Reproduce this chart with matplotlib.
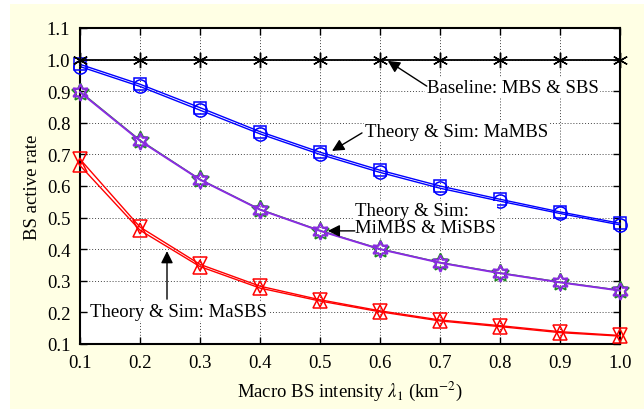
import matplotlib
matplotlib.use("Agg")
import matplotlib.pyplot as plt
from matplotlib.patches import Rectangle
from matplotlib.ticker import MultipleLocator, FormatStrFormatter

plt.rcParams['font.family'] = ['Liberation Serif', 'DejaVu Serif']
plt.rcParams['mathtext.fontset'] = 'stix'

x = [0.1, 0.2, 0.3, 0.4, 0.5, 0.6, 0.7, 0.8, 0.9, 1.0]
baseline = [1.0, 1.0, 1.0, 1.0, 1.0, 1.0, 1.0, 1.0, 1.0, 1.0]
mambs_theory = [0.978, 0.915, 0.840, 0.765, 0.700, 0.643, 0.593, 0.552, 0.513, 0.477]
mambs_sim = [0.985, 0.922, 0.848, 0.772, 0.707, 0.650, 0.600, 0.558, 0.518, 0.482]
mi_theory = [0.897, 0.743, 0.620, 0.525, 0.458, 0.400, 0.357, 0.324, 0.295, 0.269]
mi_sim = [0.899, 0.745, 0.621, 0.526, 0.459, 0.401, 0.358, 0.325, 0.296, 0.270]
masbs_theory = [0.685, 0.470, 0.352, 0.283, 0.240, 0.205, 0.176, 0.158, 0.139, 0.127]
masbs_sim = [0.665, 0.460, 0.345, 0.277, 0.236, 0.202, 0.173, 0.155, 0.136, 0.125]

W, H = 644, 410
fig = plt.figure(figsize=(W / 100, H / 100), dpi=100, facecolor='white')
fig.patches.append(Rectangle((10 / W, 0), 1 - 10 / W, 1 - 5 / H, transform=fig.transFigure,
                             facecolor='#FFFFE4', edgecolor='none', zorder=-10))
ax = fig.add_axes([80 / W, 1 - 345 / H, 540 / W, 316 / H])
ax.set_facecolor('white')

ms = 9.5
ax.plot(x, baseline, color='k', lw=1.3, marker=(6, 2, 0), ms=11, mew=1.0, clip_on=False, zorder=5)
ax.plot(x, mambs_theory, color='#0000FF', lw=1.0, marker='o', ms=ms, mfc='none', mew=1.1, clip_on=False, zorder=4)
ax.plot(x, mambs_sim, color='#0000FF', lw=1.0, marker='s', ms=8, mfc='none', mew=1.1, clip_on=False, zorder=4)
ax.plot(x, mi_sim, color='#1E8C1E', lw=1.0, marker=(5, 1, 0), ms=13, mfc='none', mew=1.2, clip_on=False, zorder=4)
ax.plot(x, mi_theory, color='#8A2BE2', lw=1.4, marker=(6, 1, 0), ms=12, mfc='none', mew=1.5, clip_on=False, zorder=4)
ax.plot(x, masbs_theory, color='#FF0000', lw=1.0, marker='v', ms=10, mfc='none', mew=1.1, clip_on=False, zorder=4)
ax.plot(x, masbs_sim, color='#FF0000', lw=1.0, marker='^', ms=10, mfc='none', mew=1.1, clip_on=False, zorder=4)

ax.set_xlim(0.1, 1.0)
ax.set_ylim(0.1, 1.1)
ax.xaxis.set_major_locator(MultipleLocator(0.1))
ax.yaxis.set_major_locator(MultipleLocator(0.1))
ax.xaxis.set_major_formatter(FormatStrFormatter('%.1f'))
ax.yaxis.set_major_formatter(FormatStrFormatter('%.1f'))
ax.grid(True, linestyle=(0, (1, 2)), color='#444444', lw=0.7)
ax.tick_params(direction='in', top=True, right=True, length=5, width=1, labelsize=13.5, pad=7)
for s in ax.spines.values():
    s.set_linewidth(1.5)

ax.set_xlabel(r'Macro BS intensity $\lambda_1$ (km$^{-2}$)', fontsize=13.5, labelpad=6)
ax.set_ylabel('BS active rate', fontsize=13.5, labelpad=4)

fs = 13.5
arrow = dict(arrowstyle='-|>', color='k', lw=1.0, mutation_scale=18, shrinkA=0, shrinkB=0)

ax.text(0.678, 0.913, 'Baseline: MBS & SBS', fontsize=fs, ha='left', va='center',
        bbox=dict(facecolor='white', edgecolor='none', pad=1), zorder=6)
ax.annotate('', xy=(0.613, 0.996), xytext=(0.678, 0.916), arrowprops=arrow, zorder=7)

ax.text(0.575, 0.772, 'Theory & Sim: MaMBS', fontsize=fs, ha='left', va='center',
        bbox=dict(facecolor='white', edgecolor='none', pad=1), zorder=6)
ax.annotate('', xy=(0.52, 0.711), xytext=(0.57, 0.768), arrowprops=arrow, zorder=7)

ax.text(0.558, 0.494, 'Theory & Sim:\nMiMBS & MiSBS', fontsize=fs, ha='left', va='center',
        linespacing=1.0, bbox=dict(facecolor='white', edgecolor='none', pad=1), zorder=6)
ax.annotate('', xy=(0.513, 0.458), xytext=(0.558, 0.458), arrowprops=arrow, zorder=7)

ax.text(0.117, 0.204, 'Theory & Sim: MaSBS', fontsize=fs, ha='left', va='center',
        bbox=dict(facecolor='white', edgecolor='none', pad=1), zorder=6)
ax.annotate('', xy=(0.245, 0.394), xytext=(0.245, 0.242), arrowprops=arrow, zorder=7)

fig.savefig('out.png', dpi=100, facecolor=fig.get_facecolor())
